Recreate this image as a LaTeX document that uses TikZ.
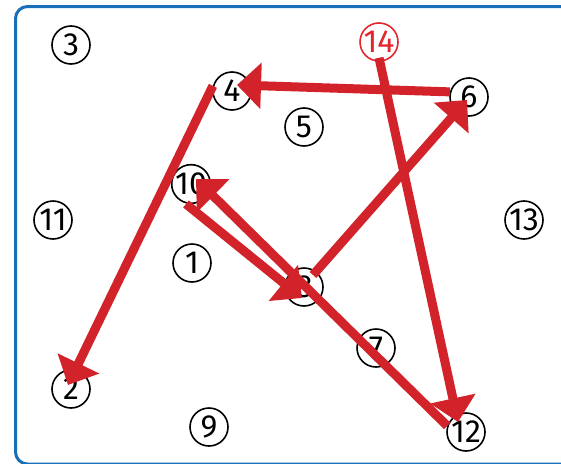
\documentclass[tikz,border=0pt]{standalone}
\usepackage{fontspec}
\setmainfont{Fira Sans}
\usepackage{tikz}
\usetikzlibrary{arrows.meta}
\definecolor{frameblue}{HTML}{1A6FBA}
\definecolor{arrowred}{HTML}{D2232A}
\definecolor{markred}{HTML}{E3262D}
\begin{document}
\begin{tikzpicture}[x=1pt,y=-1pt]
  \tikzstyle{num}=[draw, circle, line width=1.6pt, minimum size=38pt,
    inner sep=0pt, font=\fontsize{32}{32}\selectfont]
  \tikzstyle{jump}=[draw=arrowred, line width=9pt,
    -{Triangle[length=24pt,width=45pt]}]

  \clip (0,0) rectangle (561,463);
  \draw[frameblue, line width=3pt, rounded corners=12pt]
    (15.5,6.5) rectangle (600,464);

  \node[num] (n1)  at (192,263) {1};
  \node[num] (n2)  at (71,389)  {2};
  \node[num] (n3)  at (71,45)   {3};
  \node[num] (n4)  at (232,91)  {4};
  \node[num] (n5)  at (304,127) {5};
  \node[num] (n6)  at (469,97)  {6};
  \node[num] (n7)  at (376,348) {7};
  \node[num] (n8)  at (304,287) {8};
  \node[num] (n9)  at (209,427) {9};
  \node[num] (n10) at (191,184) {10};
  \node[num] (n11) at (53,220)  {11};
  \node[num] (n12) at (466,432) {12};
  \node[num] (n13) at (524,220) {13};
  \node[num, draw=markred, text=markred] (n14) at (379,42) {14};

  \draw[jump] ([yshift=4pt]n14.south) -- ([xshift=-8pt,yshift=10pt]n12.center);
  \draw[jump] (n12.162) -- ([xshift=5pt,yshift=5pt]n10.center);
  \draw[jump] ([xshift=-5pt,yshift=-20pt]n10.center) -- ([xshift=-2pt,yshift=-11pt]n8.center);
  \draw[jump] ([xshift=9pt,yshift=12pt]n8.center) -- ([xshift=-2pt,yshift=-3pt]n6.center);
  \draw[jump] (n6.165) -- ([xshift=5pt,yshift=6pt]n4.center);
  \draw[jump] (n4.165) -- ([xshift=-3pt,yshift=4pt]n2.center);
\end{tikzpicture}
\end{document}
